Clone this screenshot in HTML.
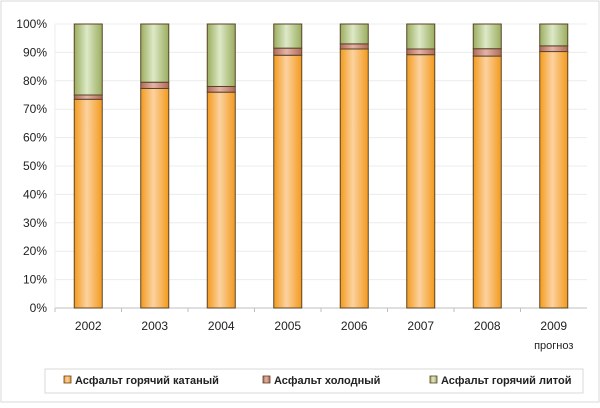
<!DOCTYPE html>
<html><head><meta charset="utf-8"><style>
body{margin:0;background:#fff;font-family:"Liberation Sans",sans-serif;}
svg text{font-family:"Liberation Sans",sans-serif;}
</style></head><body>
<svg width="600" height="403" viewBox="0 0 600 403" xmlns="http://www.w3.org/2000/svg">
<defs>
<linearGradient id="gO" x1="0" x2="1" y1="0" y2="0"><stop offset="0" stop-color="#f39a1c"/><stop offset="0.45" stop-color="#fcd2a0"/><stop offset="1" stop-color="#f39a1c"/></linearGradient>
<linearGradient id="gB" x1="0" x2="1" y1="0" y2="0"><stop offset="0" stop-color="#b06a58"/><stop offset="0.45" stop-color="#e4b4a8"/><stop offset="1" stop-color="#b06a58"/></linearGradient>
<linearGradient id="gG" x1="0" x2="1" y1="0" y2="0"><stop offset="0" stop-color="#9aad5e"/><stop offset="0.45" stop-color="#dde9c8"/><stop offset="1" stop-color="#9aad5e"/></linearGradient>
</defs>
<rect x="1" y="1" width="598" height="401" fill="#fff" stroke="#d9d9d9"/>
<g id="grid"></g>
<g id="bars"></g>
<g id="axes"></g>
<rect x="45" y="369" width="538" height="24" fill="#fff" stroke="#d9d9d9"/>
<g>
<rect x="64" y="376" width="7" height="7" fill="url(#gO)" stroke="#604020" stroke-width="0.8"/>
<text x="75" y="384" font-size="11" font-weight="bold" fill="#222">Асфальт горячий катаный</text></g>
<g>
<rect x="263" y="376" width="7" height="7" fill="url(#gB)" stroke="#604020" stroke-width="0.8"/>
<text x="274" y="384" font-size="11" font-weight="bold" fill="#222">Асфальт холодный</text></g>
<g>
<rect x="430" y="376" width="7" height="7" fill="url(#gG)" stroke="#604020" stroke-width="0.8"/>
<text x="441" y="384" font-size="11" font-weight="bold" fill="#222">Асфальт горячий литой</text></g>
</svg>
<script>
const categories=["2002","2003","2004","2005","2006","2007","2008","2009"];
const hotRolled=[73.5,77.3,76.0,89.0,91.2,89.2,88.7,90.3];
const cold=[1.5,2.2,2.0,2.5,1.8,2.0,2.6,2.0];
const hotCast=[25.0,20.5,22.0,8.5,7.0,8.8,8.7,7.7];
const yTicks=[0,10,20,30,40,50,60,70,80,90,100];
const NS="http://www.w3.org/2000/svg";
const L=55,R=587,T=24,B=308;
const y=v=>B-(v/100)*(B-T);
const bw=(R-L)/categories.length;
const xc=i=>L+bw*(i+0.5);
function mk(t,a,p){const e=document.createElementNS(NS,t);for(const k in a)e.setAttribute(k,a[k]);p.appendChild(e);return e;}
const grid=document.getElementById('grid'),bars=document.getElementById('bars'),axes=document.getElementById('axes');
yTicks.forEach(v=>{
 const l=mk('line',{x1:L,x2:R,y1:y(v),y2:y(v),stroke:v===0?'#bfbfbf':'#ececec'},grid);
 
 
 const t=mk('text',{x:L-8,y:y(v)+4,'text-anchor':'end','font-size':'12',fill:'#222'},axes);
 t.textContent=v+'%';
 
 
});
mk('line',{x1:L,x2:L,y1:T,y2:B,stroke:'#ececec'},grid);
categories.forEach((c,i)=>{
 const x=xc(i)-14;
 let base=0;
 [[hotRolled[i],'gO','bar-hot-rolled'],[cold[i],'gB','bar-cold'],[hotCast[i],'gG','bar-hot-cast']].forEach(([v,g,n])=>{
  const r=mk('rect',{x:x,y:y(base+v),width:28,height:y(base)-y(base+v),fill:'url(#'+g+')',stroke:'#5a4428','stroke-width':'1'},bars);
  
  
  base+=v;
 });
 const t=mk('text',{x:xc(i),y:330,'text-anchor':'middle','font-size':'12',fill:'#222'},axes);
 t.textContent=c;
 
 
 mk('line',{x1:L+bw*i,x2:L+bw*i,y1:B,y2:B+4,stroke:'#bfbfbf'},axes);
});
const p=mk('text',{x:xc(7),y:349,'text-anchor':'middle','font-size':'11',fill:'#222'},axes);
p.textContent='прогноз';


</script>
</body></html>
